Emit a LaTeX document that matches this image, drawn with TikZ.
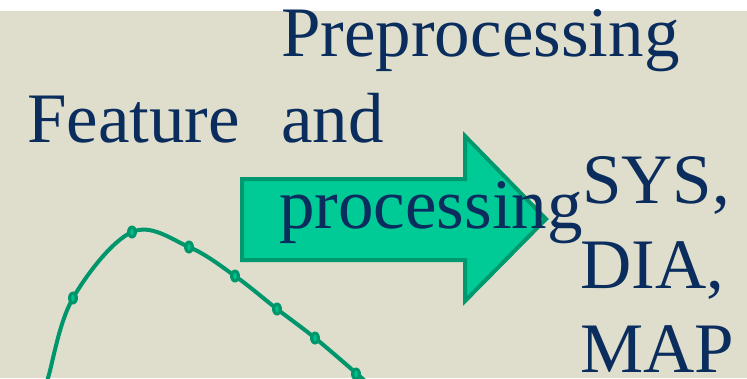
\documentclass[tikz,border=0pt]{standalone}
\usepackage{fontspec}
\setmainfont{Liberation Serif}
\usetikzlibrary{shapes.geometric}
\definecolor{bgbeige}{HTML}{DFDECC}
\definecolor{navy}{HTML}{0B2D5E}
\definecolor{arrowfill}{HTML}{00CA96}
\definecolor{arrowline}{HTML}{00986E}
\definecolor{curvegreen}{HTML}{00966B}
\definecolor{dotlight}{HTML}{00C08A}
\tikzset{
  bigtext/.style={text=navy, inner sep=0pt, anchor=base west, font=\fontsize{71}{85}\selectfont},
  bigarrow/.style={fill=arrowfill, draw=arrowline, line width=4pt, line join=miter},
  curveline/.style={draw=curvegreen, line width=4pt},
  curvedot/.style={ellipse, fill=curvegreen, minimum width=10pt, minimum height=13pt, inner sep=0pt},
  dotcore/.style={ellipse, fill=dotlight, minimum width=3.5pt, minimum height=6.5pt, inner sep=0pt}
}
\begin{document}
\begin{tikzpicture}[x=1pt,y=-1pt]
\useasboundingbox (0,0) rectangle (747,378);
\fill[white] (0,0) rectangle (747,11);
\fill[bgbeige] (0,11) rectangle (747,378);
% curve
\begin{scope}
\clip (0,11) rectangle (747,378);
\draw[curveline] plot[smooth, tension=0.6] coordinates {(43,395) (48,378) (73,298) (132,232) (189,247) (235,276) (277,309) (315,338) (356,373) (366,382)};
\foreach \i/\p in {1/{(73,298)},2/{(132,232)},3/{(189,247)},4/{(235,276)},5/{(277,309)},6/{(315,338)},7/{(356,374)}}{
  \node[curvedot] (d\i) at \p {};
  \node[dotcore] at (d\i) {};
}
\end{scope}
% arrow
\draw[bigarrow] (242,179) coordinate (a1) -- (465,179) -- (465,136) -- (546,219) coordinate (tip) -- (465,301) -- (465,260) -- (242,260) -- cycle;
% texts
\node[bigtext] (feature) at (27,142) {Feature};
\node[bigtext] (pre) at (281,56) {Preprocessing};
\node[bigtext] (and) at (281,142) {and};
\node[bigtext] (proc) at (279,228) {processing};
\node[bigtext] (sys) at (582,203) {SYS,};
\node[bigtext] (dia) at (580,288) {DIA,};
\node[bigtext] (map) at (580,372) {MAP};
\end{tikzpicture}
\end{document}
